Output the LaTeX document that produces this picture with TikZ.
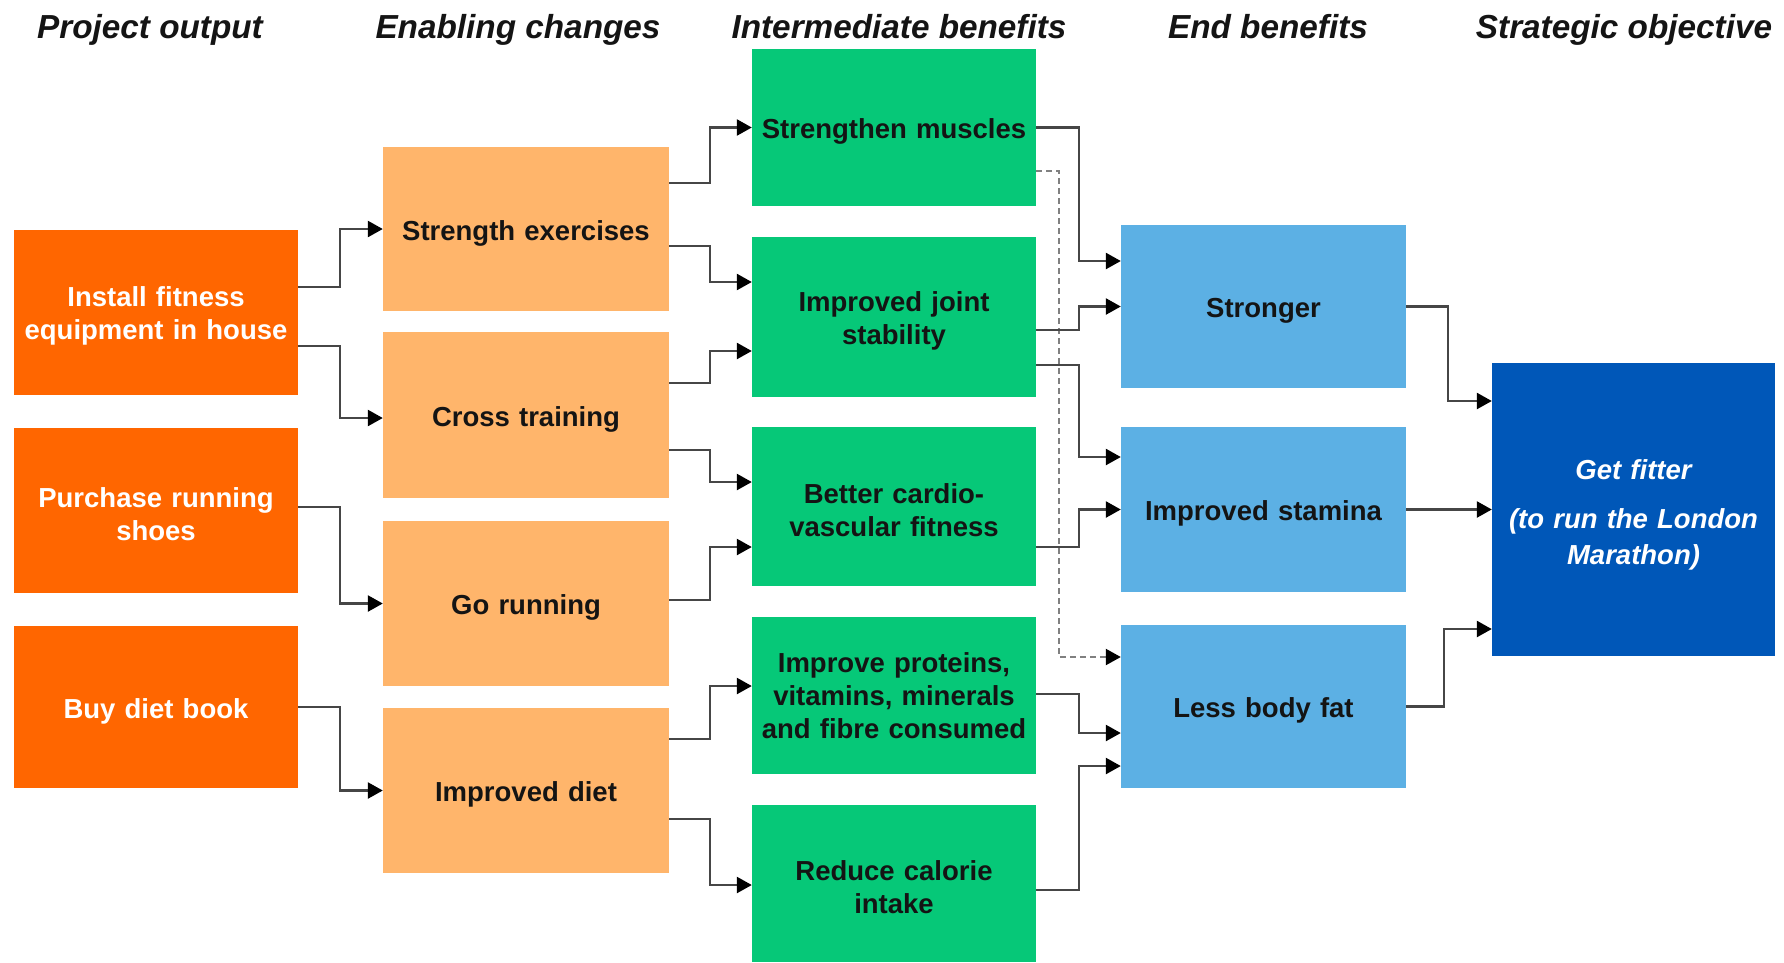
\documentclass[tikz,border=0pt]{standalone}
\usepackage{fontspec}
\setmainfont{Liberation Sans}
\usetikzlibrary{arrows.meta,calc}
\definecolor{dorange}{RGB}{255,102,0}
\definecolor{lorange}{RGB}{255,181,107}
\definecolor{bgreen}{RGB}{6,200,120}
\definecolor{lblue}{RGB}{92,176,228}
\definecolor{dblue}{RGB}{0,87,184}
\definecolor{txt}{RGB}{20,20,20}
\definecolor{linegray}{RGB}{70,70,70}
\tikzset{
  box/.style={rectangle,inner sep=0pt,align=center,font=\fontsize{27.5}{33}\selectfont\bfseries,text=txt,execute at begin node={\rule{0pt}{28pt}}},
  outbox/.style={box,fill=dorange,text=white,minimum width=284pt,minimum height=165pt,text width=280pt},
  enbox/.style={box,fill=lorange,minimum width=286pt,minimum height=165pt,text width=280pt},
  imbox/.style={box,fill=bgreen,minimum width=284pt,minimum height=158pt,text width=280pt},
  endbox/.style={box,fill=lblue,minimum width=285pt,minimum height=164pt,text width=280pt},
  goalbox/.style={box,fill=dblue,text=white,minimum width=283pt,minimum height=293pt,text width=280pt,font=\fontsize{27.5}{36}\selectfont\bfseries\itshape,execute at begin node={\rule{0pt}{30pt}}},
  head/.style={font=\fontsize{33.3}{36}\selectfont\bfseries\itshape,text=txt,inner sep=0pt,anchor=base},
  conn/.style={draw=linegray,line width=2.5pt,-{Triangle[length=15pt,width=16pt,fill=black,color=black]}},
  dconn/.style={conn,line width=2.2pt,dash pattern=on 6pt off 4pt,draw=gray}
}
\begin{document}
\begin{tikzpicture}[x=1pt,y=-1pt]
\useasboundingbox (0,0) rectangle (1784,962);
% headers
\node[head] (h1) at (150,38) {Project output};
\node[head] (h2) at (518,38) {Enabling changes};
\node[head] (h3) at (899,38) {Intermediate benefits};
\node[head] (h4) at (1268,38) {End benefits};
\node[head] (h5) at (1624,38) {Strategic objective};
% column 1
\node[outbox] (inst) at (156,312) {Install fitness\\equipment in house};
\node[outbox] (purch) at (156,510.5) {Purchase running\\shoes};
\node[outbox,minimum height=162pt] (buy) at (156,707) {Buy diet book};
% column 2
\node[enbox,minimum height=164pt] (stren) at (526,229) {Strength exercises};
\node[enbox,minimum height=166pt] (cross) at (526,415) {Cross training};
\node[enbox] (gorun) at (526,603.5) {Go running};
\node[enbox] (diet) at (526,790.5) {Improved diet};
% column 3
\node[imbox,minimum height=157pt] (musc) at (894,127.5) {Strengthen muscles};
\node[imbox,minimum height=160pt] (joint) at (894,317) {Improved joint\\stability};
\node[imbox,minimum height=159pt] (cardio) at (894,506.5) {Better cardio-\\vascular fitness};
\node[imbox,minimum height=157pt,execute at begin node={},execute at end node={\rule[-8pt]{0pt}{8pt}}] (prot) at (894,695.5) {Improve proteins,\\vitamins, minerals\\and fibre consumed};
\node[imbox,minimum height=157pt] (cal) at (894,883.5) {Reduce calorie\\intake};
% column 4
\node[endbox,minimum height=163pt] (strong) at (1263.5,306.5) {Stronger};
\node[endbox,minimum height=165pt] (stam) at (1263.5,509.5) {Improved stamina};
\node[endbox,minimum height=163pt] (fat) at (1263.5,706.5) {Less body fat};
% goal
\node[goalbox] (goal) at (1633.5,509.5) {Get fitter\\[13pt](to run the London\\Marathon)};
% connectors col1 -> col2
\draw[conn] ($(inst.east)+(0,-25)$) -- ++(42,0) |- (stren.west);
\draw[conn] ($(inst.east)+(0,34)$) -- ++(42,0) |- ($(cross.west)+(0,3)$);
\draw[conn] ($(purch.east)+(0,-3.5)$) -- ++(42,0) |- (gorun.west);
\draw[conn] (buy.east) -- ++(42,0) |- (diet.west);
% col2 -> col3
\draw[conn] ($(stren.east)+(0,-46)$) -- ++(41,0) |- (musc.west);
\draw[conn] ($(stren.east)+(0,17)$) -- ++(41,0) |- ($(joint.west)+(0,-35)$);
\draw[conn] ($(cross.east)+(0,-32)$) -- ++(41,0) |- ($(joint.west)+(0,34)$);
\draw[conn] ($(cross.east)+(0,35)$) -- ++(41,0) |- ($(cardio.west)+(0,-24.5)$);
\draw[conn] ($(gorun.east)+(0,-3.5)$) -- ++(41,0) |- ($(cardio.west)+(0,40.5)$);
\draw[conn] ($(diet.east)+(0,-51.5)$) -- ++(41,0) |- ($(prot.west)+(0,-9.5)$);
\draw[conn] ($(diet.east)+(0,28.5)$) -- ++(41,0) |- ($(cal.west)+(0,1.5)$);
% col3 -> col4
\draw[dconn] ($(musc.east)+(0,43.5)$) -- ++(23,0) |- ($(fat.west)+(0,-49.5)$);
\draw[conn] (musc.east) -- ++(43,0) |- ($(strong.west)+(0,-45.5)$);
\draw[conn] ($(joint.east)+(0,13)$) -- ++(43,0) |- (strong.west);
\draw[conn] ($(joint.east)+(0,48)$) -- ++(43,0) |- ($(stam.west)+(0,-52.5)$);
\draw[conn] ($(cardio.east)+(0,40.5)$) -- ++(43,0) |- (stam.west);
\draw[conn] ($(prot.east)+(0,-1.5)$) -- ++(43,0) |- ($(fat.west)+(0,26.5)$);
\draw[conn] ($(cal.east)+(0,6.5)$) -- ++(43,0) |- ($(fat.west)+(0,59.5)$);
% col4 -> goal
\draw[conn] (strong.east) -- ++(42,0) |- ($(goal.west)+(0,-108.5)$);
\draw[conn] (stam.east) -- (goal.west);
\draw[conn] (fat.east) -- ++(38,0) |- ($(goal.west)+(0,119.5)$);
\end{tikzpicture}
\end{document}
